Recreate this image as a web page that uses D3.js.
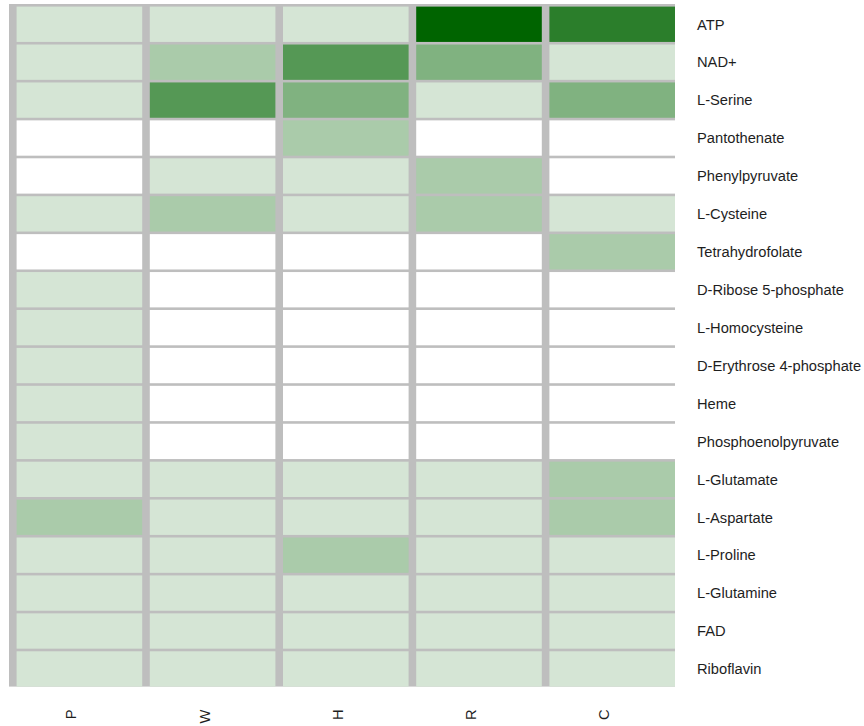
<!DOCTYPE html>
<html>
<head>
<meta charset="utf-8">
<script src="https://d3js.org/d3.v7.min.js"></script>
<style>
  html, body { margin: 0; padding: 0; background: #ffffff; }
  svg { display: block; }
  text { font-family: "Liberation Sans", Arial, sans-serif; fill: #1e1e1e; }
</style>
</head>
<body>
<svg id="chart" width="864" height="726"></svg>
<script>
// Sample columns (left to right)
const samples = ["P", "W", "H", "R", "C"];

// Metabolites (top to bottom)
const metabolites = [
  "ATP", "NAD+", "L-Serine", "Pantothenate", "Phenylpyruvate", "L-Cysteine",
  "Tetrahydrofolate", "D-Ribose 5-phosphate", "L-Homocysteine",
  "D-Erythrose 4-phosphate", "Heme", "Phosphoenolpyruvate", "L-Glutamate",
  "L-Aspartate", "L-Proline", "L-Glutamine", "FAD", "Riboflavin"
];

// Intensity level per metabolite, one value per sample (P, W, H, R, C)
const levelP = [1, 1, 1, 0, 0, 1, 0, 1, 1, 1, 1, 1, 1, 2, 1, 1, 1, 1];
const levelW = [1, 2, 4, 0, 1, 2, 0, 0, 0, 0, 0, 0, 1, 1, 1, 1, 1, 1];
const levelH = [1, 4, 3, 2, 1, 1, 0, 0, 0, 0, 0, 0, 1, 1, 2, 1, 1, 1];
const levelR = [6, 3, 1, 0, 2, 2, 0, 0, 0, 0, 0, 0, 1, 1, 1, 1, 1, 1];
const levelC = [5, 1, 3, 0, 0, 1, 2, 0, 0, 0, 0, 0, 2, 2, 1, 1, 1, 1];

const levelMax = 6;
const seriesBySample = [levelP, levelW, levelH, levelR, levelC];

const cells = [];
samples.forEach((s, i) => {
  metabolites.forEach((m, j) => {
    cells.push({ sample: s, metabolite: m, value: seriesBySample[i][j] });
  });
});

const svg = d3.select("#chart");

const x = d3.scaleBand().domain(samples).range([9, 675]);
const y = d3.scaleBand().domain(metabolites).range([4, 686.6]);

const color = d3.scaleLinear()
  .domain([0, levelMax])
  .range(["#ffffff", "#006400"])
  .interpolate(d3.interpolateRgb);

// Gray grid behind the tiles
const gapX = 7.6, gapY = 2.6;
svg.append("rect")
  .attr("x", x.range()[0])
  .attr("y", y.range()[0])
  .attr("width", x.range()[1] - x.range()[0])
  .attr("height", y.range()[1] - y.range()[0])
  .attr("fill", "#bebebe");

svg.append("g")
  .selectAll("rect")
  .data(cells)
  .join("rect")
  .attr("x", d => x(d.sample) + gapX)
  .attr("y", d => y(d.metabolite) + gapY)
  .attr("width", x.bandwidth() - gapX)
  .attr("height", y.bandwidth() - gapY)
  .attr("fill", d => color(d.value));

// Row labels on the right
svg.append("g")
  .selectAll("text")
  .data(metabolites)
  .join("text")
  .attr("x", 697)
  .attr("y", d => y(d) + gapY + (y.bandwidth() - gapY) / 2)
  .attr("dy", "0.36em")
  .attr("font-size", 14.7)
  .text(d => d);

// Column labels, rotated, under the grid
svg.append("g")
  .selectAll("text")
  .data(samples)
  .join("text")
  .attr("transform", d => {
    const cx = x(d) + gapX + (x.bandwidth() - gapX) / 2 - 3;
    return `translate(${cx},709.5) rotate(-90)`;
  })
  .attr("text-anchor", "end")
  .attr("font-size", 14.7)
  .text(d => d);
</script>
</body>
</html>
